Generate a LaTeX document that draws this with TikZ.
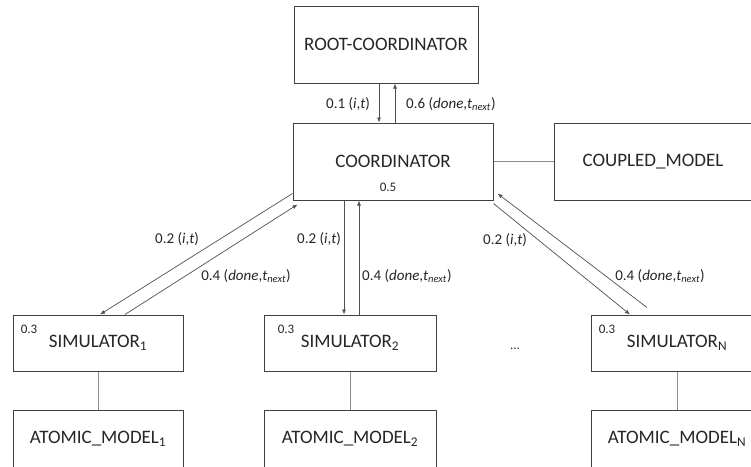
\documentclass[tikz,border=0pt]{standalone}
\usepackage{fontspec}
\setmainfont{Carlito}
\usetikzlibrary{arrows.meta}
\definecolor{boxline}{HTML}{404040}
\definecolor{plainline}{HTML}{8C8C8C}
\definecolor{arrline}{HTML}{505050}
\definecolor{txt}{HTML}{262626}
\tikzset{
  blk/.style={draw=boxline, line width=1pt, fill=white, inner sep=0pt, text=txt, font=\fontsize{19}{21}\selectfont},
  plain/.style={draw=plainline, line width=0.8pt},
  arr/.style={draw=arrline, line width=0.7pt, -{Latex[length=5pt,width=4pt]}},
  lbl/.style={text=txt, inner sep=0pt, font=\fontsize{15}{17}\selectfont},
  small/.style={text=txt, inner sep=0pt, font=\fontsize{13}{15}\selectfont}
}
\begin{document}
\begin{tikzpicture}[x=1pt, y=-1pt]
\useasboundingbox (0,0) rectangle (751,466);
\clip (0,0) rectangle (751,466);
% boxes
\node[blk, minimum width=184pt, minimum height=77pt] (root) at (386,44.5) {ROOT-COORDINATOR};
\node[blk, minimum width=200pt, minimum height=77pt] (coord) at (393,161.5) {COORDINATOR};
\node[blk, minimum width=198pt, minimum height=77pt] (coupled) at (653,161.5) {COUPLED\_MODEL};
\node[blk, minimum width=170pt, minimum height=56pt] (sim1) at (98,343) {SIMULATOR\textsubscript{1}};
\node[blk, minimum width=172pt, minimum height=56pt] (sim2) at (350,343) {SIMULATOR\textsubscript{2}};
\node[blk, minimum width=172pt, minimum height=56pt] (simN) at (677,343) {SIMULATOR\textsubscript{N}};
\node[blk, minimum width=170pt, minimum height=58pt] (at1) at (98,439) {ATOMIC\_MODEL\textsubscript{1}};
\node[blk, minimum width=172pt, minimum height=58pt] (at2) at (350,439) {ATOMIC\_MODEL\textsubscript{2}};
\node[blk, minimum width=172pt, minimum height=58pt] (atN) at (677,439) {ATOMIC\_MODEL\textsubscript{N}};
% small numbers
\node[small] (n05) at (388,187) {0.5};
\node[small] (n31) at (29,329) {0.3};
\node[small] (n32) at (286,329) {0.3};
\node[small] (n3N) at (607,329) {0.3};
\node[small] (dots) at (515,349) {...};
% plain connectors
\draw[plain] (coord.east) -- (coupled.west);
\draw[plain] (sim1.south) -- (at1.north);
\draw[plain] (sim2.south) -- (at2.north);
\draw[plain] (simN.south) -- (atN.north);
% root <-> coordinator
\draw[arr] ([xshift=-7pt]root.south) -- ([xshift=-7pt]root.south |- coord.north);
\draw[arr] ([xshift=9pt]root.south |- coord.north) -- ([xshift=9pt]root.south);
% coordinator <-> sim1
\draw[arr] ([yshift=7pt]coord.south west) -- ([xshift=2pt]sim1.north);
\draw[arr] ([xshift=27pt]sim1.north) -- ([xshift=5pt,yshift=-4pt]coord.south west);
% coordinator <-> sim2
\draw[arr] ([xshift=-6pt]sim2.north |- coord.south) -- ([xshift=-6pt]sim2.north);
\draw[arr] ([xshift=9pt]sim2.north) -- ([xshift=9pt]sim2.north |- coord.south);
% coordinator <-> simN
\draw[arr] ([yshift=-3pt]coord.south east) -- ([xshift=-47pt]simN.north);
\draw[arr] ([xshift=-30pt,yshift=7pt]simN.north) -- ([xshift=4pt,yshift=7pt]coord.south east);
% labels
\node[lbl] (l01) at (348,104) {0.1 (\textit{i},\textit{t})};
\node[lbl, anchor=west] (l06) at (406,104) {0.6 (\textit{done},\textit{t}\textsubscript{\textit{next}})};
\node[lbl] (l21) at (177,239) {0.2 (\textit{i},\textit{t})};
\node[lbl] (l41) at (246,276) {0.4 (\textit{done},\textit{t}\textsubscript{\textit{next}})};
\node[lbl] (l22) at (319,239) {0.2 (\textit{i},\textit{t})};
\node[lbl, anchor=west] (l42) at (362,276) {0.4 (\textit{done},\textit{t}\textsubscript{\textit{next}})};
\node[lbl] (l2N) at (505,240) {0.2 (\textit{i},\textit{t})};
\node[lbl] (l4N) at (660,276) {0.4 (\textit{done},\textit{t}\textsubscript{\textit{next}})};
\end{tikzpicture}
\end{document}
